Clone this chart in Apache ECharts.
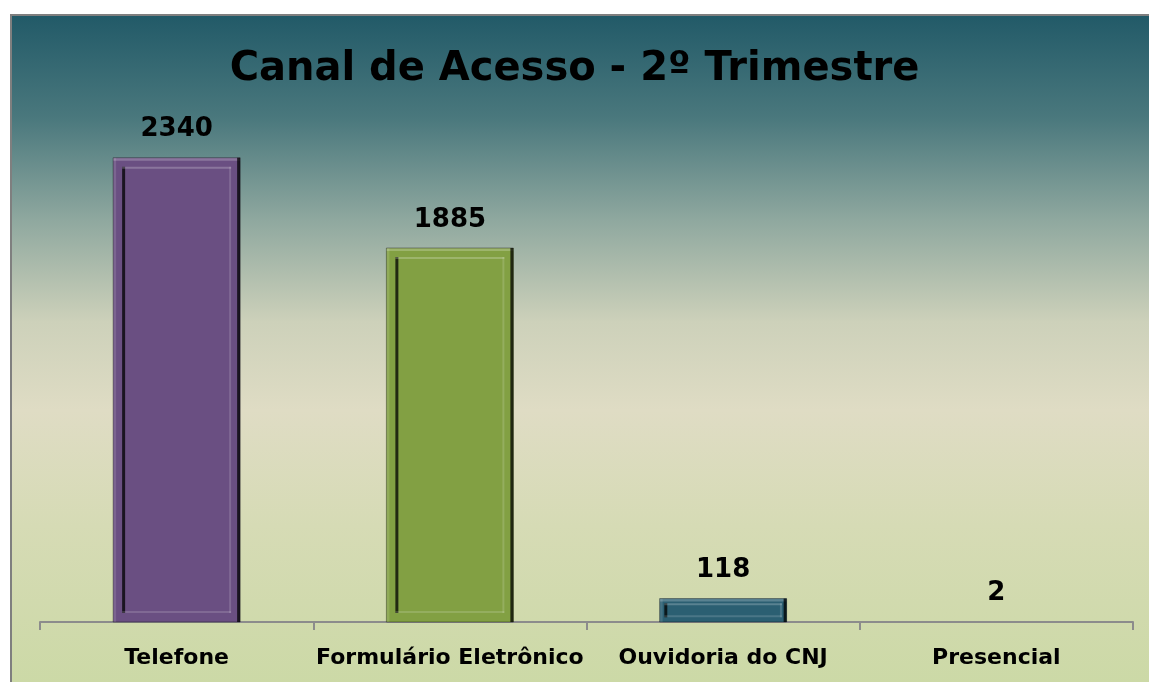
<!DOCTYPE html>
<html>
<head>
<meta charset="utf-8">
<script src="https://cdn.jsdelivr.net/npm/echarts@6/dist/echarts.min.js"></script>
<style>
  html, body { margin: 0; padding: 0; background: #fff; overflow: hidden; }
  #frame {
    position: absolute; left: 10px; top: 14px; width: 1150px; height: 680px;
    border-left: 2px solid #7f7f7f; border-top: 2px solid #7f7f7f;
    background: linear-gradient(to bottom, #225a68 0%, #4a787d 15%, #8fa89f 30%, #cdd1ba 45%, #dfdcc4 58%, #d6dbb5 75%, #cbd9a5 100%);
  }
  #chart { position: absolute; left: 0; top: 0; width: 1149px; height: 682px; }
</style>
</head>
<body>
<div id="frame"></div>
<div id="chart"></div>
<script>
let categories = ['Telefone', 'Formulário Eletrônico', 'Ouvidoria do CNJ', 'Presencial'];
let values = [2340, 1885, 118, 2];
let barColors = ['#6a4f82', '#82a043', '#2b5f72', 'rgba(0,0,0,0)'];

let FONT = 'DejaVu Sans';
let BARW = 127;

let myChart = echarts.init(document.getElementById('chart'));

let barData = values.map((v, i) => ({
  value: v,
  itemStyle: { color: barColors[i] }
}));

// bevel frame drawn on top of each bar
function renderBevel(params, api) {
  let top = api.coord([api.value(0), api.value(1)]);
  let base = api.coord([api.value(0), 0]);
  let x = top[0] - BARW / 2;
  let y = top[1];
  let w = BARW;
  let h = base[1] - top[1];
  if (h < 4) return null;
  let ins = Math.min(9, h / 5);
  let ih = h - 2 * ins;
  let light = 'rgba(255,255,255,0.22)';
  let dark = 'rgba(0,0,0,0.75)';
  return {
    type: 'group',
    children: [
      { type: 'rect', shape: { x: x, y: y, width: w, height: 3 }, style: { fill: light } },
      { type: 'rect', shape: { x: x, y: y, width: 3, height: h }, style: { fill: 'rgba(255,255,255,0.12)' } },
      { type: 'rect', shape: { x: x + w - 3, y: y, width: 3, height: h }, style: { fill: dark } },
      { type: 'rect', shape: { x: x, y: y, width: w, height: h }, style: { fill: 'none', stroke: 'rgba(0,0,0,0.35)', lineWidth: 1 } },
      { type: 'rect', shape: { x: x + ins, y: y + ins, width: 3, height: ih }, style: { fill: dark } },
      { type: 'rect', shape: { x: x + ins, y: y + ins, width: w - 2 * ins, height: 2 }, style: { fill: light } },
      { type: 'rect', shape: { x: x + w - ins - 2, y: y + ins, width: 2, height: ih }, style: { fill: 'rgba(255,255,255,0.15)' } },
      { type: 'rect', shape: { x: x + ins, y: y + h - ins - 2, width: w - 2 * ins, height: 2 }, style: { fill: 'rgba(255,255,255,0.15)' } }
    ]
  };
}

option = {
  backgroundColor: 'transparent',
  title: {
    text: 'Canal de Acesso - 2º Trimestre',
    left: 'center',
    top: 45,
    textStyle: {
      fontFamily: FONT,
      fontSize: 40,
      fontWeight: 'bold',
      color: '#000'
    }
  },
  grid: {
    left: 40,
    right: 16,
    top: 126,
    bottom: 60
  },
  xAxis: {
    type: 'category',
    data: categories,
    axisLine: { lineStyle: { color: '#8c8c8c', width: 2 } },
    axisTick: { show: true, interval: 0, length: 8, lineStyle: { color: '#8c8c8c', width: 2 } },
    axisLabel: {
      interval: 0,
      margin: 25,
      fontFamily: FONT,
      fontSize: 22,
      fontWeight: 'bold',
      color: '#000'
    }
  },
  yAxis: {
    type: 'value',
    min: 0,
    max: 2500,
    show: false,
    splitLine: { show: false }
  },
  series: [
    {
      type: 'bar',
      barWidth: BARW,
      data: barData,
      label: {
        show: true,
        position: 'top',
        distance: 15,
        fontFamily: FONT,
        fontSize: 26,
        fontWeight: 'bold',
        color: '#000'
      }
    },
    {
      type: 'custom',
      renderItem: renderBevel,
      data: values.map((v, i) => [i, v]),
      z: 3,
      silent: true
    }
  ]
};

myChart.setOption(option);
</script>
</body>
</html>
